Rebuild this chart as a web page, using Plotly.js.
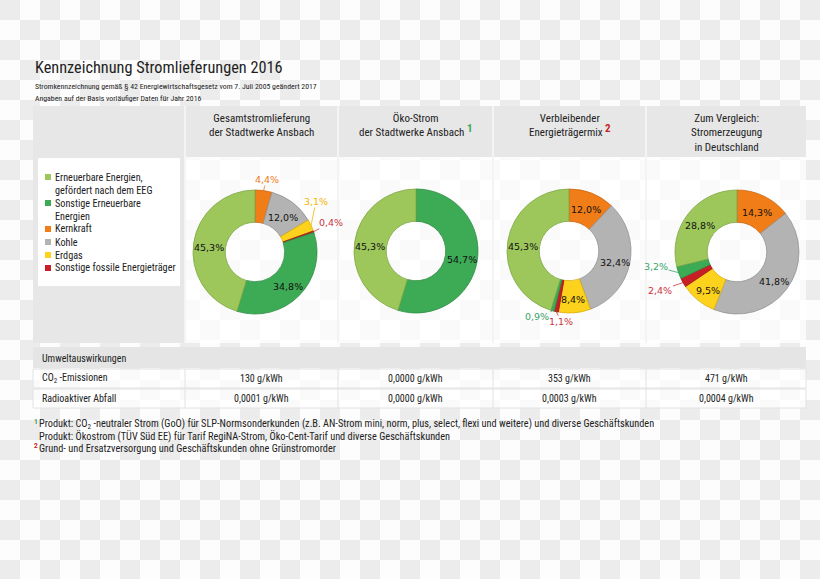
<!DOCTYPE html>
<html><head><meta charset="utf-8">
<script src="https://cdn.plot.ly/plotly-3.0.1.min.js"></script>
<style>
html,body{margin:0;padding:0;}
body{width:820px;height:579px;overflow:hidden;background:repeating-conic-gradient(#fdfdfd 0 25%, #ececec 0 50%) 0 0/40px 40px;}
#chart{width:820px;height:579px;}
</style></head><body><div id="chart"></div>
<script>
// ---------- data ----------
const categories = ['Erneuerbare Energien, gefördert nach dem EEG', 'Sonstige Erneuerbare Energien', 'Kernkraft', 'Kohle', 'Erdgas', 'Sonstige fossile Energieträger'];
const legendLines = [['Erneuerbare Energien,', 'gefördert nach dem EEG'], ['Sonstige Erneuerbare', 'Energien'], ['Kernkraft'], ['Kohle'], ['Erdgas'], ['Sonstige fossile Energieträger']];
const colors = ['#9dc75b', '#3dab55', '#f07d18', '#b3b3b3', '#fdd21c', '#c81f26'];
const lineColors = ['#7fa845', '#2e8c44', '#c96410', '#939393', '#d9ad10', '#9a1418'];
const labelColors = ['#6e9a3a', '#3aa36b', '#f07d18', '#8a8a8a', '#f5b400', '#cc3340'];
const drawOrder = [2, 3, 4, 5, 1, 0]; // clockwise from 12 o'clock

const gesamt = [45.3, 34.8, 4.4, 12.0, 3.1, 0.4];
const oeko = [45.3, 54.7, 0, 0, 0, 0];
const verbleibend = [45.3, 0.9, 12.0, 32.4, 8.4, 1.1];
const deutschland = [28.8, 3.2, 14.3, 41.8, 9.5, 2.4];
const series = [gesamt, oeko, verbleibend, deutschland];

const columnTitles = ['Gesamtstromlieferung<br>der Stadtwerke Ansbach', 'Öko-Strom<br>der Stadtwerke Ansbach', 'Verbleibender<br>Energieträgermix', 'Zum Vergleich:<br>Stromerzeugung<br>in Deutschland'];
const columnMarks = ['', '1', '2', ''];
const co2Values = ['130 g/kWh', '0,0000 g/kWh', '353 g/kWh', '471 g/kWh'];
const radioValues = ['0,0001 g/kWh', '0,0000 g/kWh', '0,0003 g/kWh', '0,0004 g/kWh'];

const titleText = 'Kennzeichnung Stromlieferungen 2016';
const subtitleLines = ['Stromkennzeichnung gemäß § 42 Energiewirtschaftsgesetz vom 7. Juli 2005 geändert 2017', 'Angaben auf der Basis vorläufiger Daten für Jahr 2016'];
const footnotes = [
  ['1', 'Produkt: CO<sub>2</sub> -neutraler Strom (GoO) für SLP-Normsonderkunden (z.B. AN-Strom mini, norm, plus, select, flexi und weitere) und diverse Geschäftskunden'],
  ['', 'Produkt: Ökostrom (TÜV Süd EE) für Tarif RegiNA-Strom, Öko-Cent-Tarif und diverse Geschäftskunden'],
  ['2', 'Grund- und Ersatzversorgung und Geschäftskunden ohne Grünstromorder']
];

// ---------- layout config ----------
const W = 820, H = 579;
const X = p => p / W, Y = p => 1 - p / H;
const NARROW = '"Liberation Sans Narrow", "Roboto Condensed", "Roboto", sans-serif';
const LBL = '"DejaVu Sans", sans-serif';
const pies = [{cx: 255, cy: 252}, {cx: 416, cy: 251}, {cx: 569, cy: 251}, {cx: 737, cy: 252}];
const R = 62, HOLE = 0.48;
const colEdges = [185, 338, 493, 646, 806];
// outside label offsets (px from outer edge of slice), by category index; others are inside labels
const outside = [
  {2: [3, -11], 4: [5, -24], 5: [17, -9]},
  {},
  {1: [-15, 6], 5: [5, 10]},
  {1: [-23, -6], 5: [-23, 8]}
];

const fmt = v => v.toFixed(1).replace('.', ',') + '%';

const traces = [];
const annotations = [];
const shapes = [];

function rect(x0, y0, x1, y1, fill, lineCol, lw, layer) {
  shapes.push({type: 'rect', xref: 'paper', yref: 'paper', x0: X(x0), x1: X(x1), y0: Y(y1), y1: Y(y0),
    fillcolor: fill, line: {width: lw || 0, color: lineCol || 'rgba(0,0,0,0)'}, layer: layer || 'below'});
}
function seg(x0, y0, x1, y1, col, w, layer) {
  shapes.push({type: 'line', xref: 'paper', yref: 'paper', x0: X(x0), x1: X(x1), y0: Y(y0), y1: Y(y1),
    line: {color: col, width: w}, layer: layer || 'above'});
}
function text(x, y, t, size, opts) {
  opts = opts || {};
  annotations.push(Object.assign({xref: 'paper', yref: 'paper', x: X(x), y: Y(y), text: t, showarrow: false,
    xanchor: 'left', yanchor: 'middle', font: {family: NARROW, size: size, color: '#222'}}, opts));
}

// backgrounds
rect(33, 106, 806, 157, '#e7e7e7');
rect(33, 157, 185, 343, '#e7e7e7');
rect(185, 157, 806, 343, 'rgba(255,255,255,0.75)');
rect(38, 158, 180, 286, '#ffffff');
for (let k = 0; k < 4; k++) seg(colEdges[k], 106, colEdges[k], 343, '#f4f4f4', 2, 'below');
// environment table
rect(33, 347, 806, 368, '#e5e5e5');
rect(33, 369, 806, 388, 'rgba(255,255,255,0.75)', '#e2e2e2', 1);
rect(33, 389, 806, 408, 'rgba(255,255,255,0.75)', '#e2e2e2', 1);
for (let k = 0; k < 4; k++) seg(colEdges[k], 369, colEdges[k], 408, '#e2e2e2', 1, 'below');

// title
text(33, 67, titleText, 16.3, {font: {family: NARROW, size: 16.3, color: '#1e1e1e'}});
text(33, 86, subtitleLines[0], 7.8);
text(33, 99, subtitleLines[1], 7.8);

// column headers
const markColors = {'1': '#3aa655', '2': '#c81f26'};
columnTitles.forEach((t, k) => {
  const cx = (colEdges[k] + colEdges[k + 1]) / 2;
  let s = t;
  if (columnMarks[k]) s += ' <sup><span style="color:' + markColors[columnMarks[k]] + ';font-weight:bold;font-size:11px">' + columnMarks[k] + '</span></sup>';
  annotations.push({xref: 'paper', yref: 'paper', x: X(cx), y: Y(110), text: s, showarrow: false, xanchor: 'center', yanchor: 'top',
    align: 'center', font: {family: NARROW, size: 11, color: '#222'}});
});

// legend
let ly = 177;
legendLines.forEach((lines, i) => {
  rect(45, ly - 3, 51, ly + 3, colors[i], null, 0, 'above');
  lines.forEach(l => { text(53, ly, l, 10.2); ly += 13; });
});

// pies
series.forEach((vals, c) => {
  const p = pies[c];
  traces.push({
    type: 'pie', sort: false, direction: 'clockwise', rotation: 0, hole: HOLE,
    values: drawOrder.map(i => vals[i]), labels: drawOrder.map(i => categories[i]),
    marker: {colors: drawOrder.map(i => colors[i]), line: {color: drawOrder.map(i => lineColors[i]), width: 0.8}},
    textinfo: 'none', textposition: 'none', hoverinfo: 'label+value', showlegend: false,
    domain: {x: [X(p.cx - R), X(p.cx + R)], y: [Y(p.cy + R), Y(p.cy - R)]}
  });
  const total = vals.reduce((a, b) => a + b, 0);
  let cum = 0;
  drawOrder.forEach(i => {
    const v = vals[i];
    if (v <= 0) return;
    const mid = (cum + v / 2) / total * 2 * Math.PI;
    cum += v;
    const off = outside[c][i];
    if (!off) {
      const r = R * 0.75;
      annotations.push({xref: 'paper', yref: 'paper', x: X(p.cx + r * Math.sin(mid)), y: Y(p.cy - r * Math.cos(mid) + 2),
        text: fmt(v), showarrow: false, xanchor: 'center', yanchor: 'middle', font: {family: LBL, size: 9.5, color: '#111'}});
    } else {
      const ax = p.cx + R * Math.sin(mid), ay = p.cy - R * Math.cos(mid);
      const lx = ax + off[0], ly2 = ay + off[1];
      const s = Math.min(13 / Math.abs(off[0] || 1e-6), 6 / Math.abs(off[1] || 1e-6));
      const t = Math.max(0, 1 - s);
      if (t > 0) seg(ax, ay, ax + off[0] * t, ay + off[1] * t, labelColors[i], 0.8);
      annotations.push({xref: 'paper', yref: 'paper', x: X(lx), y: Y(ly2), text: fmt(v), showarrow: false,
        xanchor: 'center', yanchor: 'middle', font: {family: LBL, size: 9.5, color: labelColors[i]}});
    }
  });
});

// environment table text
text(40, 358, 'Umweltauswirkungen', 10);
text(40, 378.5, 'CO<sub>2</sub> -Emissionen', 10);
text(40, 398.5, 'Radioaktiver Abfall', 10);
co2Values.forEach((v, k) => {
  const cx = (colEdges[k] + colEdges[k + 1]) / 2;
  text(cx, 378.5, v, 10, {xanchor: 'center'});
  text(cx, 398.5, radioValues[k], 10, {xanchor: 'center'});
});

// footnotes
footnotes.forEach((f, k) => {
  const y = 424 + k * 12;
  if (f[0]) text(32, y - 3, '<b>' + f[0] + '</b>', 7.5, {font: {family: NARROW, size: 7.5, color: markColors[f[0]]}});
  text(37, y, f[1], 10.3);
});

Plotly.newPlot('chart', traces, {
  width: W, height: H, margin: {l: 0, r: 0, t: 0, b: 0},
  paper_bgcolor: 'rgba(0,0,0,0)', plot_bgcolor: 'rgba(0,0,0,0)',
  xaxis: {visible: false}, yaxis: {visible: false},
  shapes: shapes, annotations: annotations, showlegend: false
}, {displayModeBar: false, staticPlot: true});
</script></body></html>
